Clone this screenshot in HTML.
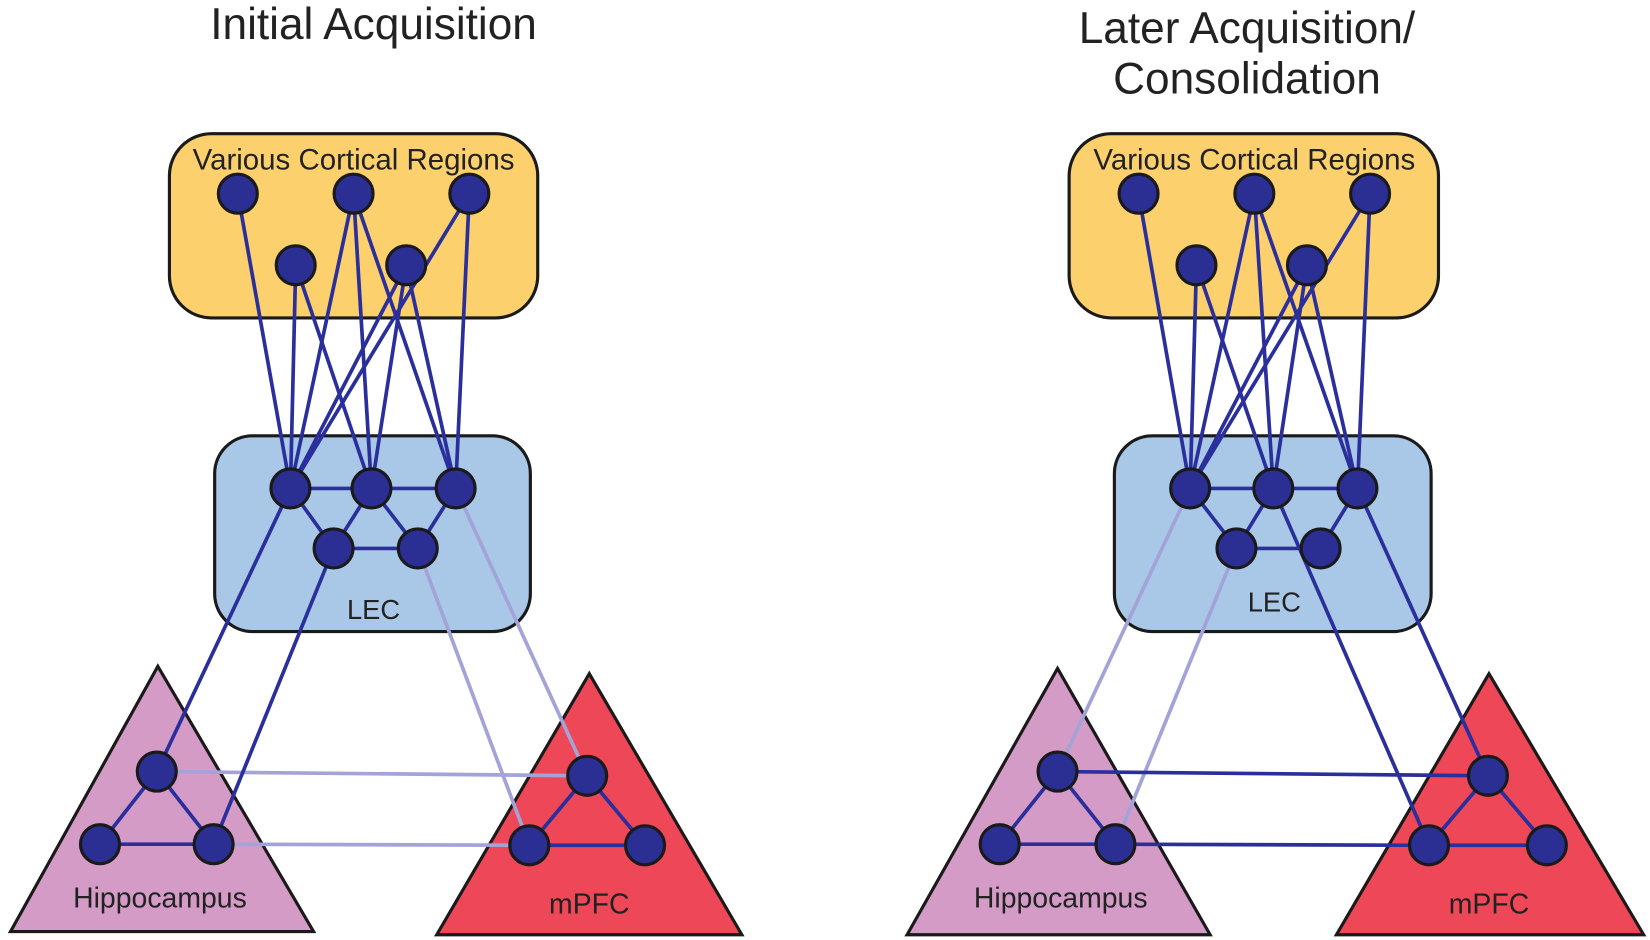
<!DOCTYPE html>
<html><head><meta charset="utf-8"><style>
html,body{margin:0;padding:0;background:#fff;}
svg{display:block;}
text{font-family:"Liberation Sans",sans-serif;fill:#222;}
</style></head><body>
<svg width="1650" height="940" viewBox="0 0 1568 893" preserveAspectRatio="none" xmlns="http://www.w3.org/2000/svg">
<text x="355" y="37" font-size="42" text-anchor="middle">Initial Acquisition</text>
<text x="1185" y="41" font-size="42" text-anchor="middle">Later Acquisition/</text>
<text x="1185" y="89" font-size="42" text-anchor="middle">Consolidation</text>

<!-- LEFT PANEL -->
<rect x="161" y="127" width="350" height="175" rx="40" fill="#fcd06c" stroke="#1a1a1a" stroke-width="3"/>
<text x="336" y="161" font-size="28" text-anchor="middle">Various Cortical Regions</text>
<rect x="204" y="414" width="300" height="186" rx="36" fill="#a9c8e8" stroke="#1a1a1a" stroke-width="3"/>
<text x="355" y="588" font-size="26" text-anchor="middle">LEC</text>
<polygon points="150,633 10,885 298,885" fill="#d59bc7" stroke="#1a1a1a" stroke-width="3"/>
<polygon points="560,640 415,888 705,888" fill="#ee4757" stroke="#1a1a1a" stroke-width="3"/>
<text x="152" y="862" font-size="27" text-anchor="middle">Hippocampus</text>
<text x="560" y="868" font-size="27" text-anchor="middle">mPFC</text>
<g stroke="#a3a3d8" stroke-width="3.5">
<line x1="433" y1="464" x2="558" y2="737"/>
<line x1="397" y1="521" x2="503" y2="803"/>
<line x1="149" y1="733" x2="558" y2="737"/>
<line x1="203" y1="802" x2="503" y2="803"/>
</g>
<g stroke="#2a2f9c" stroke-width="3.5">
<line x1="226" y1="184" x2="276" y2="464"/>
<line x1="281" y1="252" x2="276" y2="464"/>
<line x1="281" y1="252" x2="353" y2="464"/>
<line x1="336" y1="184" x2="276" y2="464"/>
<line x1="336" y1="184" x2="353" y2="464"/>
<line x1="336" y1="184" x2="433" y2="464"/>
<line x1="386" y1="252" x2="276" y2="464"/>
<line x1="386" y1="252" x2="353" y2="464"/>
<line x1="386" y1="252" x2="433" y2="464"/>
<line x1="446" y1="184" x2="276" y2="464"/>
<line x1="446" y1="184" x2="433" y2="464"/>
<line x1="276" y1="464" x2="433" y2="464"/>
<line x1="276" y1="464" x2="317" y2="521"/>
<line x1="353" y1="464" x2="317" y2="521"/>
<line x1="353" y1="464" x2="397" y2="521"/>
<line x1="433" y1="464" x2="397" y2="521"/>
<line x1="317" y1="521" x2="397" y2="521"/>
<line x1="276" y1="464" x2="149" y2="733"/>
<line x1="317" y1="521" x2="203" y2="802"/>
<polygon points="149,733 95,802 203,802" fill="none"/>
<polygon points="558,737 503,803 613,803" fill="none"/>
</g>
<g fill="#2b2f94" stroke="#1a1a1a" stroke-width="3">
<circle cx="226" cy="184" r="18.5"/><circle cx="336" cy="184" r="18.5"/><circle cx="446" cy="184" r="18.5"/>
<circle cx="281" cy="252" r="18.5"/><circle cx="386" cy="252" r="18.5"/>
<circle cx="276" cy="464" r="18.5"/><circle cx="353" cy="464" r="18.5"/><circle cx="433" cy="464" r="18.5"/>
<circle cx="317" cy="521" r="18.5"/><circle cx="397" cy="521" r="18.5"/>
<circle cx="149" cy="733" r="18.5"/><circle cx="95" cy="802" r="18.5"/><circle cx="203" cy="802" r="18.5"/>
<circle cx="558" cy="737" r="18.5"/><circle cx="503" cy="803" r="18.5"/><circle cx="613" cy="803" r="18.5"/>
</g>

<!-- RIGHT PANEL -->
<rect x="1016" y="127" width="351" height="175" rx="40" fill="#fcd06c" stroke="#1a1a1a" stroke-width="3"/>
<text x="1192" y="161" font-size="28" text-anchor="middle">Various Cortical Regions</text>
<rect x="1059" y="414" width="301" height="186" rx="36" fill="#a9c8e8" stroke="#1a1a1a" stroke-width="3"/>
<text x="1211" y="581" font-size="26" text-anchor="middle">LEC</text>
<polygon points="1005,635 862,888 1150,888" fill="#d59bc7" stroke="#1a1a1a" stroke-width="3"/>
<polygon points="1415,640 1270,888 1562,888" fill="#ee4757" stroke="#1a1a1a" stroke-width="3"/>
<text x="1008" y="862" font-size="27" text-anchor="middle">Hippocampus</text>
<text x="1415" y="868" font-size="27" text-anchor="middle">mPFC</text>
<g stroke="#a3a3d8" stroke-width="3.5">
<line x1="1131" y1="464" x2="1005" y2="733"/>
<line x1="1175" y1="521" x2="1060" y2="802"/>
</g>
<g stroke="#2a2f9c" stroke-width="3.5">
<line x1="1082" y1="184" x2="1131" y2="464"/>
<line x1="1137" y1="252" x2="1131" y2="464"/>
<line x1="1137" y1="252" x2="1210" y2="464"/>
<line x1="1192" y1="184" x2="1131" y2="464"/>
<line x1="1192" y1="184" x2="1210" y2="464"/>
<line x1="1192" y1="184" x2="1290" y2="464"/>
<line x1="1242" y1="252" x2="1131" y2="464"/>
<line x1="1242" y1="252" x2="1210" y2="464"/>
<line x1="1242" y1="252" x2="1290" y2="464"/>
<line x1="1302" y1="184" x2="1131" y2="464"/>
<line x1="1302" y1="184" x2="1290" y2="464"/>
<line x1="1131" y1="464" x2="1290" y2="464"/>
<line x1="1131" y1="464" x2="1175" y2="521"/>
<line x1="1210" y1="464" x2="1175" y2="521"/>
<line x1="1290" y1="464" x2="1255" y2="521"/>
<line x1="1175" y1="521" x2="1255" y2="521"/>
<line x1="1210" y1="464" x2="1358" y2="803"/>
<line x1="1290" y1="464" x2="1414" y2="737"/>
<line x1="1005" y1="733" x2="1414" y2="737"/>
<line x1="1060" y1="802" x2="1358" y2="803"/>
<polygon points="1005,733 950,802 1060,802" fill="none"/>
<polygon points="1414,737 1358,803 1470,803" fill="none"/>
</g>
<g fill="#2b2f94" stroke="#1a1a1a" stroke-width="3">
<circle cx="1082" cy="184" r="18.5"/><circle cx="1192" cy="184" r="18.5"/><circle cx="1302" cy="184" r="18.5"/>
<circle cx="1137" cy="252" r="18.5"/><circle cx="1242" cy="252" r="18.5"/>
<circle cx="1131" cy="464" r="18.5"/><circle cx="1210" cy="464" r="18.5"/><circle cx="1290" cy="464" r="18.5"/>
<circle cx="1175" cy="521" r="18.5"/><circle cx="1255" cy="521" r="18.5"/>
<circle cx="1005" cy="733" r="18.5"/><circle cx="950" cy="802" r="18.5"/><circle cx="1060" cy="802" r="18.5"/>
<circle cx="1414" cy="737" r="18.5"/><circle cx="1358" cy="803" r="18.5"/><circle cx="1470" cy="803" r="18.5"/>
</g>
</svg>
</body></html>
